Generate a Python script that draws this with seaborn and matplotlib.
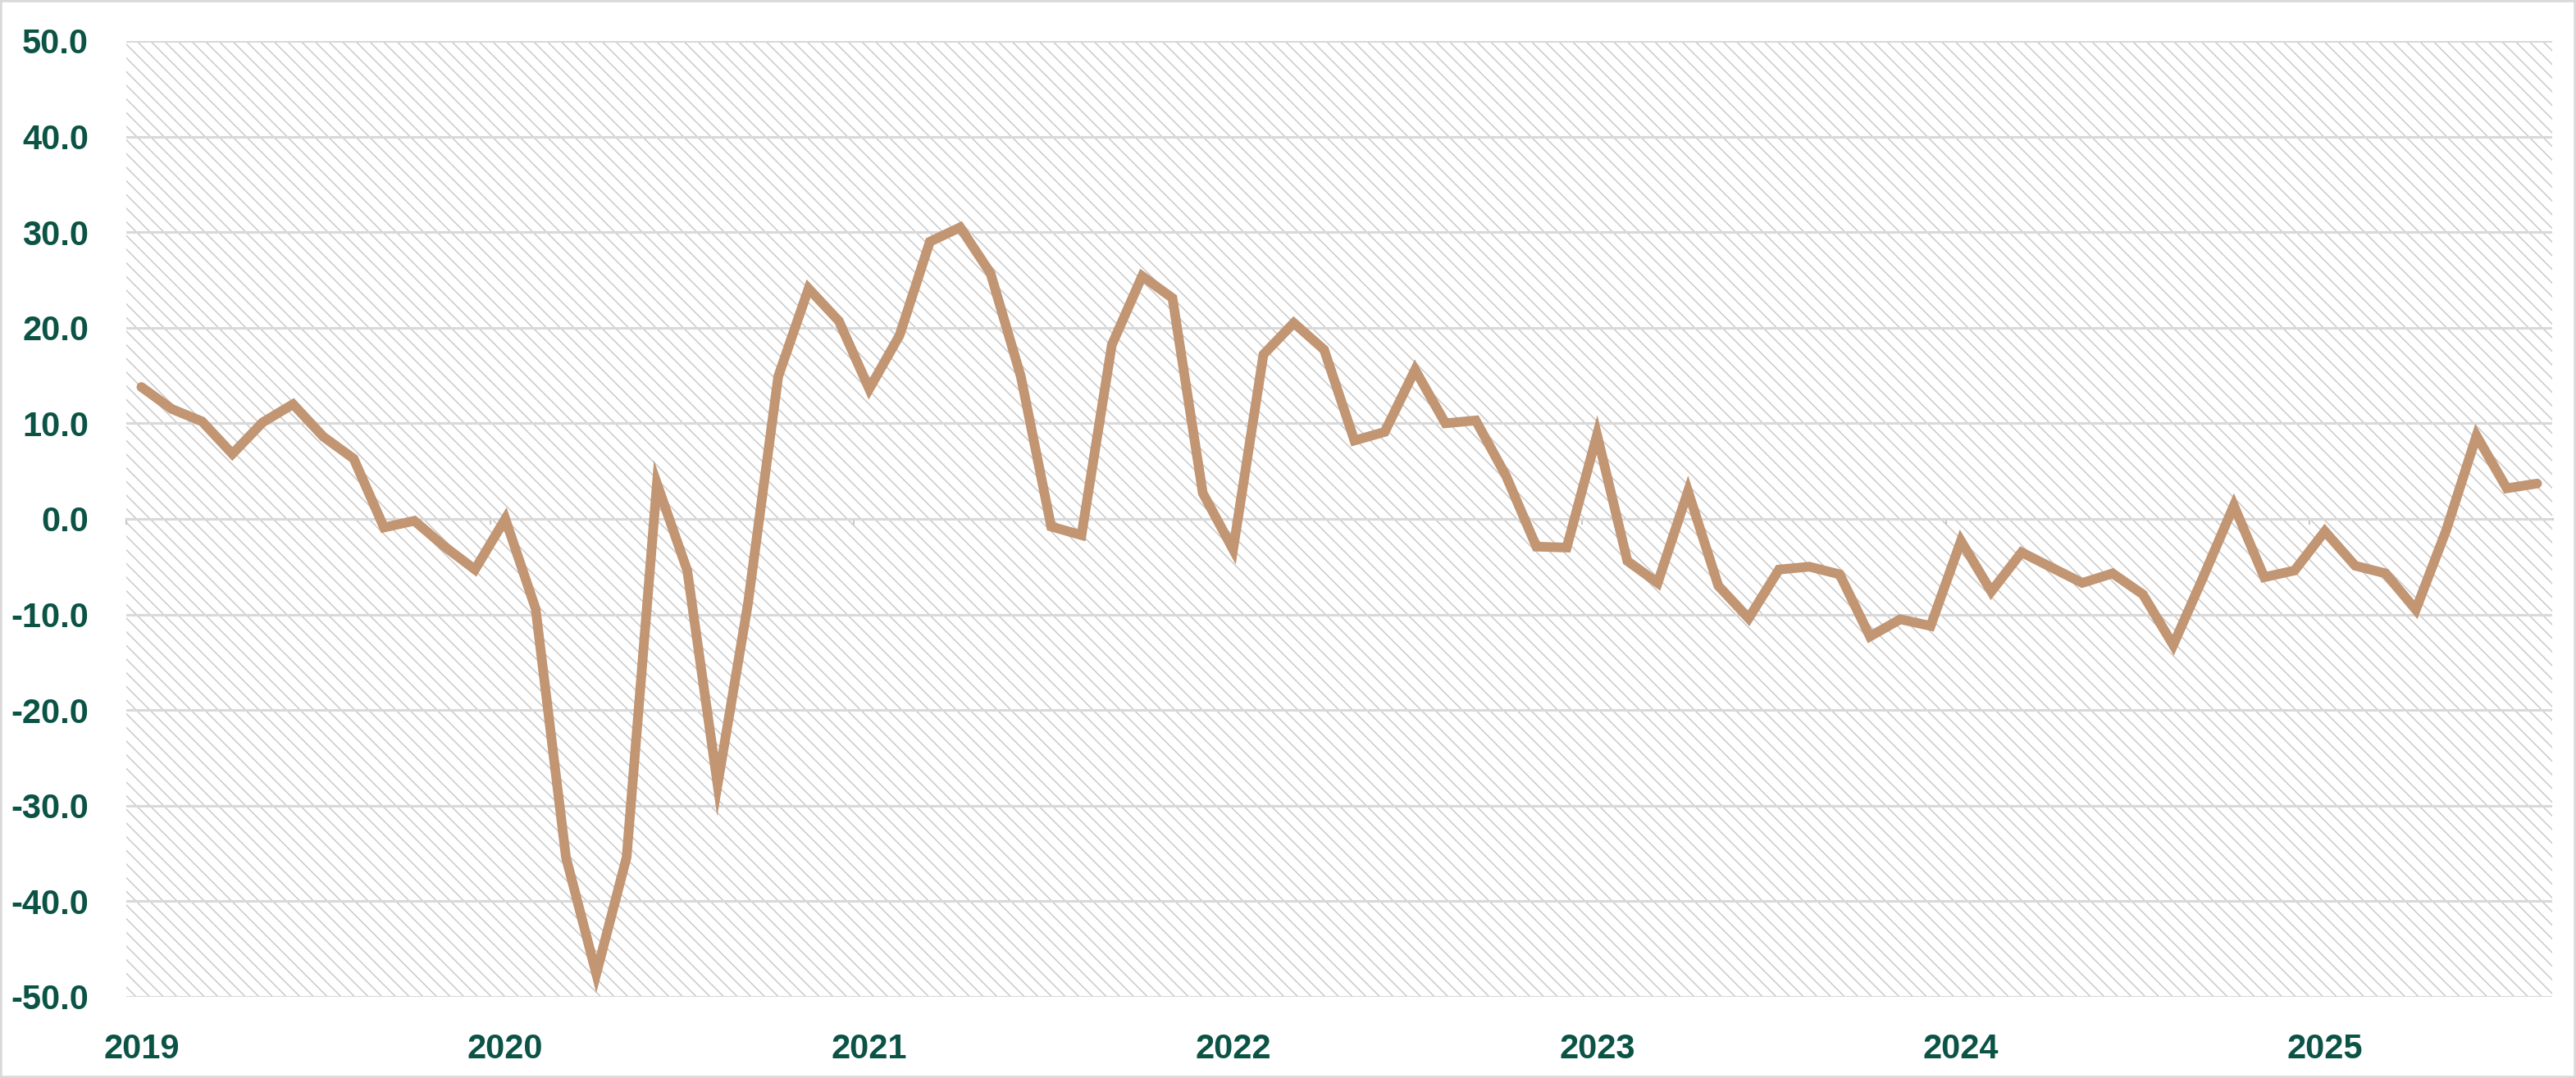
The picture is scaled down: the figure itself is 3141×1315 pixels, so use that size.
import numpy as np
import pandas as pd
import matplotlib
matplotlib.use("Agg")
import matplotlib.pyplot as plt
import seaborn as sns
from matplotlib.patches import Rectangle

# monthly values, Jan 2019 .. Aug 2025
v2019 = [13.8, 11.5, 10.2, 6.8, 10.1, 12.0, 8.6, 6.3, -0.9, -0.2, -2.9, -5.3]
v2020 = [0.0, -9.4, -35.4, -47.6, -35.4, 3.7, -5.4, -27.8, -8.9, 14.9, 24.1, 20.7]
v2021 = [13.6, 19.2, 29.0, 30.5, 25.7, 14.9, -0.8, -1.7, 18.2, 25.4, 23.1, 2.7]
v2022 = [-3.2, 17.2, 20.5, 17.7, 8.2, 9.1, 15.6, 10.0, 10.3, 4.5, -2.9, -3.0]
v2023 = [8.8, -4.4, -6.7, 2.9, -7.0, -10.4, -5.3, -5.0, -5.8, -12.3, -10.5, -11.2]
v2024 = [-2.3, -7.6, -3.5, -5.1, -6.7, -5.7, -7.9, -13.2, -6.0, 1.4, -6.1, -5.4]
v2025 = [-1.3, -4.9, -5.7, -9.5, -1.2, 8.7, 3.2, 3.7]

values = v2019 + v2020 + v2021 + v2022 + v2023 + v2024 + v2025
months = pd.period_range("2019-01", periods=len(values), freq="M")

df = pd.DataFrame({"idx": np.arange(len(values)), "value": values,
                   "year": months.year, "month": months.month})

LINE_COL = "#C29573"
TEXT_COL = "#0B5345"
GRID_COL = "#D9D9D9"
HATCH_COL = "#CACACA"

sns.set_style("white")
plt.rcParams["font.family"] = ["Liberation Sans", "DejaVu Sans"]
plt.rcParams["hatch.linewidth"] = 1.1

fig = plt.figure(figsize=(31.41, 13.15), dpi=100)
ax = fig.add_axes([0.049, 0.0753, 0.9418, 0.8867])

# hatched plot background
ax.add_patch(Rectangle((0, 0), 1, 1, transform=ax.transAxes, fill=False,
                       hatch="\\\\", edgecolor=HATCH_COL, linewidth=0, zorder=0))

sns.lineplot(data=df, x="idx", y="value", ax=ax, color=LINE_COL,
             linewidth=8.5, solid_joinstyle="miter", zorder=3)

ax.set_xlim(-0.5, len(values) - 0.5)
ax.set_ylim(-50, 50)
ax.set_yticks(np.arange(-50, 51, 10))
ax.yaxis.set_major_formatter(matplotlib.ticker.FuncFormatter(lambda y, _: f"{y:.1f}"))

jan = df[df["month"] == 1]
ax.set_xticks(jan["idx"])
ax.set_xticklabels(jan["year"].astype(str))

ax.grid(axis="y", color=GRID_COL, linewidth=2.2, zorder=1)
ax.set_axisbelow(True)
for s in ax.spines.values():
    s.set_visible(False)
ax.tick_params(axis="both", length=0, labelsize=30, labelcolor=TEXT_COL)
ax.tick_params(axis="y", pad=33)
ax.tick_params(axis="x", pad=32)
for lab in ax.get_xticklabels() + ax.get_yticklabels():
    lab.set_fontweight("bold")
ax.set_xlabel("")
ax.set_ylabel("")

# category axis crossing at zero with small ticks between years
sec = ax.secondary_xaxis(0.5)
sec.set_xticks(jan["idx"] - 0.5)
sec.tick_params(length=5, width=1.5, color="#C8C8C8", direction="in",
                labeltop=False, labelbottom=False)
for s in sec.spines.values():
    s.set_color("#CFCFCF")
    s.set_linewidth(2.2)

# chart border
fig.patches.append(Rectangle((0, 0), 1, 1, transform=fig.transFigure, fill=False,
                             edgecolor="#D9D9D9", linewidth=4))

fig.savefig("out.png", dpi=100, facecolor="white")
